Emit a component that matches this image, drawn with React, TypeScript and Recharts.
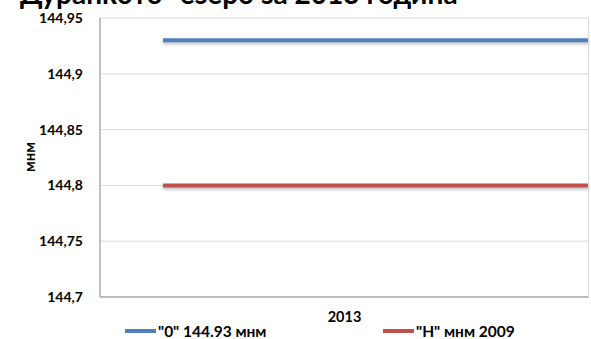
import { LineChart, Line, XAxis, YAxis, CartesianGrid } from "recharts";

// days of 2013 where a level was recorded
const days = [47, 59, 90, 120, 151, 181, 212, 243, 273, 304, 334, 365];
const zeroLevel = [144.93, 144.93, 144.93, 144.93, 144.93, 144.93, 144.93, 144.93, 144.93, 144.93, 144.93, 144.93];
const hLevel = [144.8, 144.8, 144.8, 144.8, 144.8, 144.8, 144.8, 144.8, 144.8, 144.8, 144.8, 144.8];
const yTicks = [144.7, 144.75, 144.8, 144.85, 144.9, 144.95];
const seriesNames = ['"0" 144.93 мнм', '"Н" мнм 2009'];

const data = days.map((d, i) => ({ day: d, zero: zeroLevel[i], h: hLevel[i] }));

const FONT = "Lato, 'Open Sans', sans-serif";
const BLUE = "#4f81bd";
const RED = "#c0504d";

const fmt = (v: number) => String(v).replace(".", ",");

export default function App() {
  return (
    <div style={{ position: "absolute", left: 0, top: 0, width: 591, height: 339, background: "#fff", overflow: "hidden", fontFamily: FONT }}>
      <LineChart
        width={591}
        height={339}
        data={data}
        margin={{ top: 18, right: 2, bottom: 12, left: 0 }}
      >
        <CartesianGrid horizontal vertical={false} stroke="#d9d9d9" />
        <XAxis
          dataKey="day"
          type="number"
          domain={[0, 365]}
          ticks={[]}
          tick={false}
          height={30}
          stroke="#bfbfbf"
          strokeWidth={2}
          label={{ value: "2013", position: "insideTop", offset: 15, fill: "#000", fontSize: 14.5, fontWeight: 700, fontFamily: FONT }}
        />
        <YAxis
          domain={[144.7, 144.95]}
          ticks={yTicks}
          tickFormatter={fmt}
          width={100}
          tickLine={false}
          tickSize={0}
          tickMargin={17}
          stroke="#bfbfbf"
          strokeWidth={2}
          tick={{ fill: "#000", fontSize: 14, fontWeight: 700, fontFamily: FONT }}
        />
        <Line
          dataKey="zero"
          name={seriesNames[0]}
          stroke={BLUE}
          strokeWidth={4}
          dot={false}
          isAnimationActive={false}
          style={{ filter: "drop-shadow(0px 2px 1.5px rgba(0,0,0,0.25))" }}
        />
        <Line
          dataKey="h"
          name={seriesNames[1]}
          stroke={RED}
          strokeWidth={4}
          dot={false}
          isAnimationActive={false}
          style={{ filter: "drop-shadow(0px 2px 1.5px rgba(0,0,0,0.25))" }}
        />
      </LineChart>

      {/* right border of plot area */}
      <div style={{ position: "absolute", left: 588, top: 18, width: 1, height: 279, background: "#d9d9d9" }} />

      {/* title, cut off at the top like in the source; y-axis title */}
      <svg width={591} height={339} style={{ position: "absolute", left: 0, top: 0, pointerEvents: "none" }}>
        <text x={20} y={4} fontSize={28} fontWeight={700} fontFamily={FONT} fill="#000">
          Дуранкото" езеро за 2013 година
        </text>
        <text
          transform="translate(35,157) rotate(-90)"
          textAnchor="middle"
          fontSize={15}
          fontWeight={700}
          fontFamily={FONT}
          fill="#000"
        >
          мнм
        </text>
      </svg>

      {/* legend */}
      {[BLUE, RED].map((c, i) => (
        <div
          key={i}
          style={{
            position: "absolute",
            left: i === 0 ? 125 : 383,
            top: 322,
            display: "flex",
            alignItems: "center",
            fontSize: 15.5,
            fontWeight: 700,
            whiteSpace: "nowrap",
          }}
        >
          <span style={{ display: "inline-block", width: 31, height: 4, background: c, marginRight: 2 }} />
          {seriesNames[i]}
        </div>
      ))}
    </div>
  );
}
